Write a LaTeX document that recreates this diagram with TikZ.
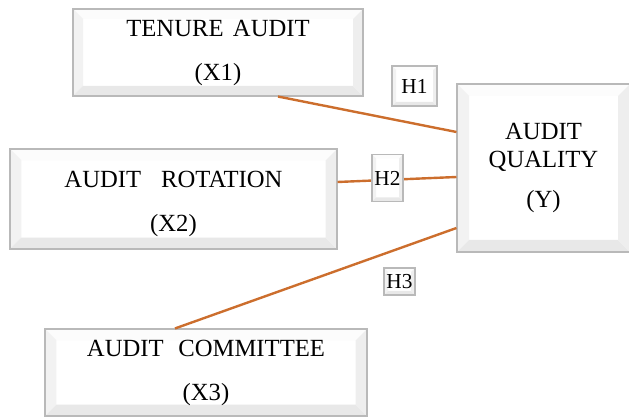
\documentclass[tikz,border=0pt]{standalone}
\usepackage{fontspec}
\setmainfont{Liberation Serif}
\usepackage{tikz}
\usetikzlibrary{positioning}
\definecolor{linkorange}{RGB}{204,110,45}

\begin{document}
\begin{tikzpicture}[x=0.75pt,y=-0.75pt,
  box/.style={draw=gray!55,line width=0.8pt,fill=white,align=center,inner sep=0pt,
    font=\fontsize{18.5}{33}\selectfont,
    path picture={
      \coordinate (pnw) at (path picture bounding box.north west);
      \coordinate (pne) at (path picture bounding box.north east);
      \coordinate (pse) at (path picture bounding box.south east);
      \coordinate (psw) at (path picture bounding box.south west);
      \fill[gray!2] (pnw) -- (pne) -- ([shift={(-#1,-#1)}]pne) -- ([shift={(#1,-#1)}]pnw) -- cycle;
      \fill[gray!10] (pnw) -- (psw) -- ([shift={(#1,#1)}]psw) -- ([shift={(#1,-#1)}]pnw) -- cycle;
      \fill[gray!18] (psw) -- (pse) -- ([shift={(-#1,#1)}]pse) -- ([shift={(#1,#1)}]psw) -- cycle;
      \fill[gray!13] (pne) -- (pse) -- ([shift={(-#1,#1)}]pse) -- ([shift={(-#1,-#1)}]pne) -- cycle;}},
  hyp/.style={box=3pt,font=\fontsize{16}{18}\selectfont},
  link/.style={draw=linkorange,line width=1.8pt}]
\useasboundingbox (0,0) rectangle (629,417);
\node[box=7.5pt,minimum width=217.5pt,minimum height=65.25pt] (x1) at (218,52.5)
  {TENURE\hspace{7pt}AUDIT\\(X1)};
\node[box=8.5pt,minimum width=245.25pt,minimum height=75pt] (x2) at (173.5,199)
  {\rule{0pt}{20pt}AUDIT\hspace{15pt}ROTATION\\(X2)};
\node[box=8.5pt,minimum width=241.5pt,minimum height=65.25pt] (x3) at (206,372.5)
  {AUDIT\hspace{11pt}COMMITTEE\\(X3)};
\node[box=9pt,minimum width=129.75pt,minimum height=126pt,
  font=\fontsize{18.5}{21}\selectfont] (y) at (543.5,168)
  {AUDIT\\QUALITY\\[9pt](Y)};
% hypothesis paths
\draw[link] ([xshift=45pt]x1.south) -- ([yshift=27pt]y.west);
\draw[link] ([yshift=12.75pt]x2.east) -- ([yshift=-6.75pt]y.west);
\draw[link] ([xshift=-23.25pt]x3.north) -- ([yshift=-45pt]y.west);
\node[hyp,minimum width=33.75pt,minimum height=30pt] (h1) at (414.5,86) {H1};
\node[hyp,minimum width=23.25pt,minimum height=35.25pt] (h2) at (387.5,178) {H2};
\node[hyp,minimum width=23.25pt,minimum height=20.25pt] (h3) at (399.5,281.5) {H3};
\end{tikzpicture}
\end{document}
